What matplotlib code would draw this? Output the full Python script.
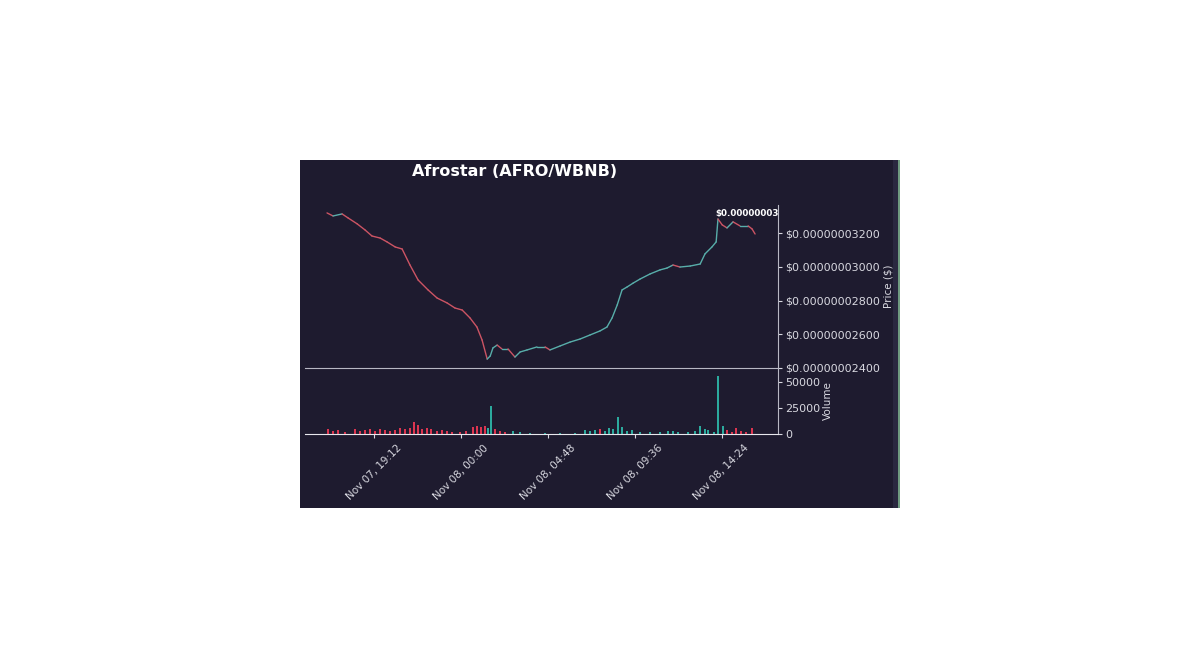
import matplotlib
matplotlib.use("Agg")
import matplotlib.pyplot as plt
import matplotlib.dates as mdates
import pandas as pd
from matplotlib.patches import Rectangle

# price trace (units of 1e-9 $)
price_times = [
    "2021-11-07 16:36", "2021-11-07 16:56", "2021-11-07 17:26", "2021-11-07 17:46",
    "2021-11-07 18:16", "2021-11-07 18:42", "2021-11-07 19:05", "2021-11-07 19:32",
    "2021-11-07 19:55", "2021-11-07 20:22", "2021-11-07 20:45", "2021-11-07 21:11",
    "2021-11-07 21:38", "2021-11-07 22:11", "2021-11-07 22:41", "2021-11-07 23:14",
    "2021-11-07 23:40", "2021-11-08 00:04", "2021-11-08 00:30", "2021-11-08 00:53",
    "2021-11-08 01:10", "2021-11-08 01:27", "2021-11-08 01:37", "2021-11-08 01:46",
    "2021-11-08 02:00", "2021-11-08 02:16", "2021-11-08 02:36", "2021-11-08 02:59",
    "2021-11-08 03:16", "2021-11-08 03:39", "2021-11-08 04:12", "2021-11-08 04:39",
    "2021-11-08 04:55", "2021-11-08 05:29", "2021-11-08 06:02", "2021-11-08 06:35",
    "2021-11-08 07:08", "2021-11-08 07:41", "2021-11-08 08:04", "2021-11-08 08:21",
    "2021-11-08 08:38", "2021-11-08 08:54", "2021-11-08 09:11", "2021-11-08 09:31",
    "2021-11-08 09:54", "2021-11-08 10:27", "2021-11-08 11:00", "2021-11-08 11:23",
    "2021-11-08 11:43", "2021-11-08 12:06", "2021-11-08 12:40", "2021-11-08 13:13",
    "2021-11-08 13:29", "2021-11-08 13:52", "2021-11-08 14:06", "2021-11-08 14:12",
    "2021-11-08 14:26", "2021-11-08 14:42", "2021-11-08 15:02", "2021-11-08 15:25",
    "2021-11-08 15:52", "2021-11-08 16:05", "2021-11-08 16:15",
]
prices = [
    33.20, 33.02, 33.14, 32.90, 32.55, 32.19, 31.83, 31.71,
    31.48, 31.18, 31.06, 30.11, 29.22, 28.63, 28.15, 27.86,
    27.56, 27.44, 26.97, 26.43, 25.66, 24.53, 24.71, 25.19,
    25.36, 25.13, 25.13, 24.65, 24.95, 25.07, 25.25, 25.25,
    25.07, 25.31, 25.54, 25.72, 25.96, 26.20, 26.43, 26.97,
    27.74, 28.63, 28.81, 29.04, 29.28, 29.58, 29.82, 29.93,
    30.11, 29.99, 30.05, 30.17, 30.77, 31.18, 31.48, 32.84,
    32.49, 32.31, 32.67, 32.43, 32.43, 32.25, 31.95,
]
peak_time = "2021-11-08 14:12"

vol_times = [
    "2021-11-07 16:40", "2021-11-07 16:56", "2021-11-07 17:13", "2021-11-07 17:36",
    "2021-11-07 18:09", "2021-11-07 18:26", "2021-11-07 18:42", "2021-11-07 18:59",
    "2021-11-07 19:15", "2021-11-07 19:32", "2021-11-07 19:48", "2021-11-07 20:05",
    "2021-11-07 20:22", "2021-11-07 20:38", "2021-11-07 20:55", "2021-11-07 21:11",
    "2021-11-07 21:25", "2021-11-07 21:38", "2021-11-07 21:51", "2021-11-07 22:08",
    "2021-11-07 22:21", "2021-11-07 22:41", "2021-11-07 22:57", "2021-11-07 23:14",
    "2021-11-07 23:31", "2021-11-07 23:57", "2021-11-08 00:17", "2021-11-08 00:40",
    "2021-11-08 00:53", "2021-11-08 01:07", "2021-11-08 01:20", "2021-11-08 01:30",
    "2021-11-08 01:40", "2021-11-08 01:53", "2021-11-08 02:10", "2021-11-08 02:26",
    "2021-11-08 02:53", "2021-11-08 03:16", "2021-11-08 03:49", "2021-11-08 04:39",
    "2021-11-08 05:29", "2021-11-08 06:18", "2021-11-08 06:51", "2021-11-08 07:08",
    "2021-11-08 07:25", "2021-11-08 07:41", "2021-11-08 07:58", "2021-11-08 08:11",
    "2021-11-08 08:24", "2021-11-08 08:41", "2021-11-08 08:54", "2021-11-08 09:11",
    "2021-11-08 09:27", "2021-11-08 09:54", "2021-11-08 10:27", "2021-11-08 11:00",
    "2021-11-08 11:27", "2021-11-08 11:43", "2021-11-08 12:00", "2021-11-08 12:33",
    "2021-11-08 12:56", "2021-11-08 13:13", "2021-11-08 13:29", "2021-11-08 13:39",
    "2021-11-08 13:59", "2021-11-08 14:12", "2021-11-08 14:29", "2021-11-08 14:42",
    "2021-11-08 14:59", "2021-11-08 15:12", "2021-11-08 15:29", "2021-11-08 15:45",
    "2021-11-08 16:05",
]
volumes = [
    4800, 2900, 3800, 1900, 4800, 2900, 3800, 4800,
    2900, 4800, 3800, 2900, 3800, 5800, 4800, 5800,
    11500, 8600, 4800, 5800, 4800, 2900, 3800, 2900,
    1900, 1900, 2900, 6700, 7700, 6700, 7700, 5800,
    26900, 4800, 2900, 1900, 2900, 1900, 1000, 1000,
    1000, 1000, 3800, 2900, 3800, 4800, 2900, 5800,
    4800, 16300, 6700, 2900, 3800, 1900, 1900, 1900,
    2900, 2900, 1900, 1900, 2900, 7700, 4800, 3800,
    1900, 55700, 7700, 3800, 1900, 5800, 2900, 1900,
    5800,
]
vol_dir = list("ddddddddddddddddddddddddddddddduuddduuuuuuuuuduuuuuuuuuuuuuuuuuuuuuddddddd")

tick_times = ["2021-11-07 19:12", "2021-11-08 00:00", "2021-11-08 04:48",
              "2021-11-08 09:36", "2021-11-08 14:24"]
price_ticks = [24, 26, 28, 30, 32]
vol_ticks = [0, 25000, 50000]

bg = "#1e1b2f"
up_c = "#58aeaa"
dn_c = "#cc5464"
vup_c = "#2fc4b2"
vdn_c = "#ff3a56"
txt = "#d8d8e0"

pt = mdates.date2num(pd.to_datetime(price_times))
pv = [p * 1e-9 for p in prices]
vt = mdates.date2num(pd.to_datetime(vol_times))
tt = mdates.date2num(pd.to_datetime(tick_times))

fig = plt.figure(figsize=(12, 6.7), dpi=100, facecolor="white")

# dark panel behind everything
bgax = fig.add_axes([0, 0, 1, 1], zorder=-5)
bgax.set_xlim(0, 1200)
bgax.set_ylim(670, 0)
bgax.axis("off")
bgax.add_patch(Rectangle((300, 160), 600, 348, facecolor=bg, edgecolor="none"))
bgax.add_patch(Rectangle((893, 160), 5, 348, facecolor="#2a2840", edgecolor="none"))
bgax.add_patch(Rectangle((898, 160), 1.5, 348, facecolor="#6f9a80", edgecolor="none"))

ax = fig.add_axes([305 / 1200, 1 - 368 / 670, 473 / 1200, 163 / 670])
axv = fig.add_axes([305 / 1200, 1 - 434 / 670, 473 / 1200, 66 / 670], sharex=ax)

for a in (ax, axv):
    a.patch.set_alpha(0)
    for s in ("left", "top"):
        a.spines[s].set_visible(False)
    a.spines["right"].set_color("#b8b8c4")
    a.spines["bottom"].set_color("#b8b8c4")
    a.yaxis.tick_right()
    a.yaxis.set_label_position("right")
    a.tick_params(colors=txt, labelsize=8, length=3, width=0.8, pad=2)
axv.spines["bottom"].set_color("#e8e8ee")

# price as up/down coloured segments
for i in range(len(pt) - 1):
    c = up_c if pv[i + 1] >= pv[i] else dn_c
    ax.plot(pt[i:i + 2], pv[i:i + 2], color=c, lw=1.0, solid_capstyle="round")

ax.set_ylim(24e-9, 33.67e-9)
ax.set_yticks([v * 1e-9 for v in price_ticks])
ax.set_yticklabels([f"${v * 1e-9:.11f}" for v in price_ticks])
ax.set_ylabel("Price ($)", color=txt, fontsize=7.5, labelpad=3)
ax.tick_params(axis="x", bottom=False, labelbottom=False)

ip = price_times.index(peak_time)
ax.annotate(f"${pv[ip]:.8f}", (pt[ip], pv[ip]), xytext=(-2, 1),
            textcoords="offset points", color="white", fontsize=6.3,
            fontweight="bold", ha="left", va="bottom", annotation_clip=False)

vcols = [vup_c if d == "u" else vdn_c for d in vol_dir]
axv.bar(vt, volumes, width=0.0042, color=vcols, alpha=0.85)
axv.set_ylim(0, 63400)
axv.set_yticks(vol_ticks)
axv.set_yticklabels([str(v) for v in vol_ticks])
axv.set_ylabel("Volume", color=txt, fontsize=7.5, labelpad=2)

left = mdates.date2num(pd.Timestamp("2021-11-07 15:23"))
right = mdates.date2num(pd.Timestamp("2021-11-08 17:31"))
axv.set_xlim(left, right)
axv.set_xticks(tt)
axv.xaxis.set_major_formatter(mdates.DateFormatter("%b %d, %H:%M"))
axv.tick_params(axis="x", labelsize=7.5, pad=3.5)
plt.setp(axv.get_xticklabels(), rotation=45, ha="center")

fig.text(515 / 1200, 1 - 172 / 670, "Afrostar (AFRO/WBNB)", color="white",
         fontsize=11.5, fontweight="bold", ha="center", va="center")

fig.savefig("out.png", dpi=100, facecolor="white")
